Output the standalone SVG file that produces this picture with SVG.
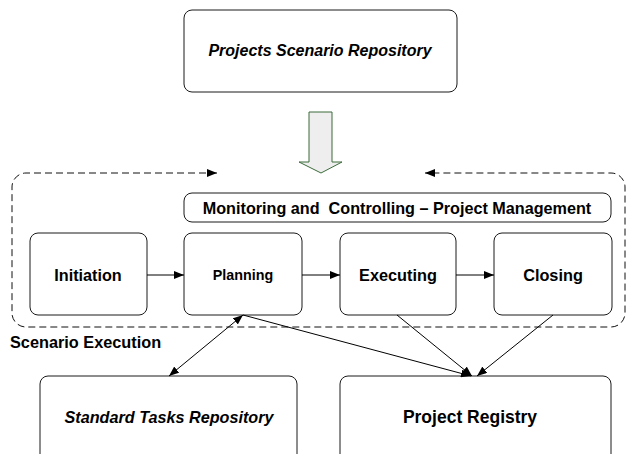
<svg xmlns="http://www.w3.org/2000/svg" width="627" height="454" viewBox="0 0 627 454">
<style>
  .box { fill: #ffffff; stroke: #1a1a1a; stroke-width: 1; }
  .t { font-family: "Liberation Sans", Arial, sans-serif; font-weight: bold; fill: #000; text-anchor: middle; }
  .ti { font-family: "Liberation Sans", Arial, sans-serif; font-weight: bold; font-style: italic; fill: #000; text-anchor: middle; }
  .line { stroke: #000; stroke-width: 1; fill: none; }
  .dash { stroke: #111; stroke-width: 1; fill: none; stroke-dasharray: 7 4; }
</style>
<defs>
  <marker id="ah" viewBox="0 0 10 8" refX="10" refY="4" markerWidth="10" markerHeight="8" markerUnits="userSpaceOnUse" orient="auto-start-reverse">
    <path d="M0,0 L10,4 L0,8 Z" fill="#000"/>
  </marker>
</defs>
<rect width="627" height="454" fill="#ffffff"/>

<g id="projects-scenario-repository">
  <rect class="box" x="184" y="10" width="273" height="82" rx="8"/>
  <text class="ti" x="320" y="56" font-size="16">Projects Scenario Repository</text>
</g>

<g id="block-arrow">
  <polygon points="309,112 332,112 332,162 342,162 321,173 299,162 309,162" fill="#eeeeee" stroke="#3b6b3b" stroke-width="1"/>
</g>

<g id="scenario-execution">
  <path class="dash" d="M217,173 L26,173 A14,14 0 0 0 12,187 L12,313 A14,14 0 0 0 26,327 L611,327 A14,14 0 0 0 625,313 L625,187 A14,14 0 0 0 611,173 L425,173" marker-start="url(#ah)" marker-end="url(#ah)"/>
  <text class="t" x="10" y="348" font-size="16.3" style="text-anchor:start">Scenario Execution</text>
</g>

<g id="monitoring">
  <rect class="box" x="184" y="193" width="427" height="29" rx="8"/>
  <text class="t" x="397" y="214" font-size="16.2" xml:space="preserve">Monitoring and  Controlling – Project Management</text>
</g>

<g id="initiation">
  <rect class="box" x="30" y="233" width="117" height="82" rx="8"/>
  <text class="t" x="88" y="281" font-size="16.2">Initiation</text>
</g>
<g id="planning">
  <rect class="box" x="184" y="233" width="118" height="82" rx="8"/>
  <text class="t" x="243" y="280" font-size="14.3">Planning</text>
</g>
<g id="executing">
  <rect class="box" x="340" y="233" width="116" height="82" rx="8"/>
  <text class="t" x="398" y="281" font-size="16.3">Executing</text>
</g>
<g id="closing">
  <rect class="box" x="494" y="233" width="118" height="82" rx="8"/>
  <text class="t" x="553" y="281" font-size="16.3">Closing</text>
</g>

<g id="standard-tasks-repository">
  <rect class="box" x="40" y="376" width="257" height="90" rx="8"/>
  <text class="ti" x="169" y="423" font-size="16.2">Standard Tasks Repository</text>
</g>
<g id="project-registry">
  <rect class="box" x="340" y="376" width="271" height="90" rx="8"/>
  <text class="t" x="470" y="423" font-size="17.5">Project Registry</text>
</g>

<g id="connectors">
  <line class="line" x1="147" y1="275" x2="184" y2="275" marker-end="url(#ah)"/>
  <line class="line" x1="302" y1="275" x2="340" y2="275" marker-end="url(#ah)"/>
  <line class="line" x1="456" y1="275" x2="494" y2="275" marker-end="url(#ah)"/>
  <line class="line" x1="243" y1="315" x2="169" y2="376" marker-start="url(#ah)" marker-end="url(#ah)"/>
  <line class="line" x1="243" y1="315" x2="471" y2="376" marker-end="url(#ah)"/>
  <line class="line" x1="397" y1="315" x2="472" y2="376" marker-end="url(#ah)"/>
  <line class="line" x1="553" y1="315" x2="477" y2="376" marker-end="url(#ah)"/>
</g>
</svg>
